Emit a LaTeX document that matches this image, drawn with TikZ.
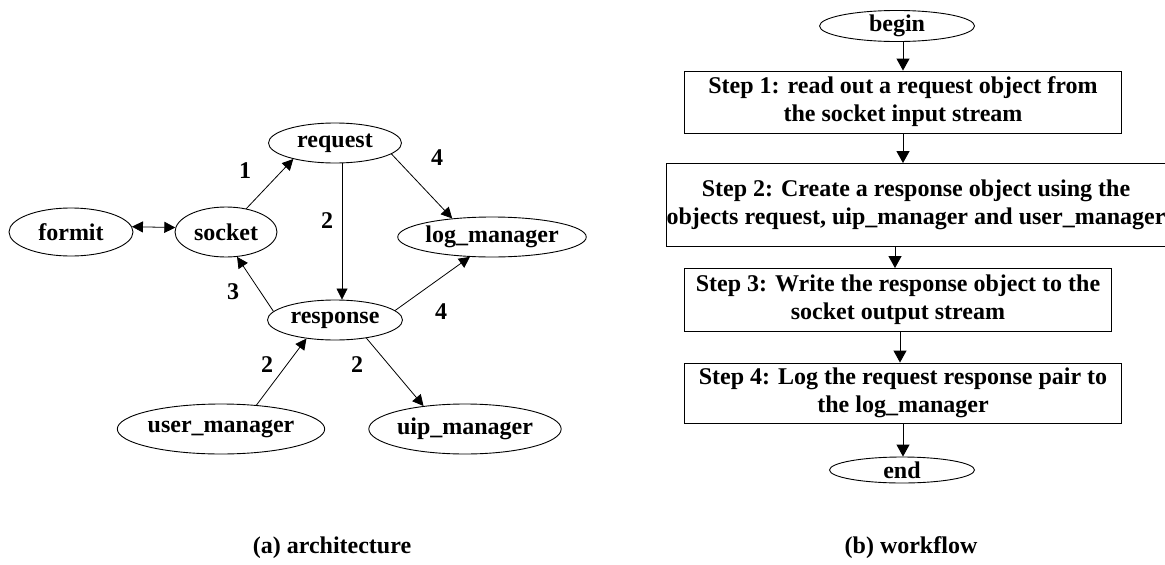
\documentclass[tikz,border=0pt]{standalone}
\usepackage{fontspec}
\setmainfont{Liberation Serif}
\usetikzlibrary{shapes.geometric,arrows.meta}
\begin{document}
\begin{tikzpicture}[x=1pt,y=-1pt,
  every node/.style={font=\fontsize{24}{28}\selectfont\bfseries},
  obj/.style={draw,ellipse,line width=0.9pt,inner sep=0pt},
  stepbox/.style={draw,rectangle,line width=0.9pt,inner sep=0pt,align=center},
  num/.style={inner sep=0pt},
  link/.style={line width=0.8pt,-{Triangle[length=11pt,width=11pt]}},
  flow/.style={line width=1pt,-{Triangle[length=12pt,width=13pt]}}]
\useasboundingbox (0,0) rectangle (1165,565);

% architecture: objects
\node[obj,minimum width=124,minimum height=48] (formit) at (71,232) {formit};
\node[obj,minimum width=102,minimum height=50] (socket) at (226,232) {socket};
\node[obj,minimum width=133,minimum height=40] (request) at (335,143) {request};
\node[obj,minimum width=135,minimum height=40] (logm) at (492,237) {log\_manager};
\node[obj,minimum width=135,minimum height=40] (response) at (335,320) {response};
\node[obj,minimum width=195,minimum height=50] (userm) at (221,429) {user\_manager};
\node[obj,minimum width=184,minimum height=50] (uipm) at (465,429) {uip\_manager};

% architecture: interactions
\draw[link,{Triangle[length=11pt,width=11pt]}-{Triangle[length=11pt,width=11pt]}] (formit.5) -- (socket.175);
\draw[link] (socket.49) -- (request.201);
\draw[link] ([xshift=7]request.south) -- ([xshift=7]response.north);
\draw[link] (request.349) -- (logm.155);
\draw[link] (response.172) -- (socket.294);
\draw[link] (response.9) -- (logm.222);
\draw[link] (userm.34) -- (response.213);
\draw[link] (response.330) -- (uipm.151);

% step numbers
\node[num] (n1) at (245,171) {1};
\node[num] (n2a) at (327,221) {2};
\node[num] (n4a) at (437,158) {4};
\node[num] (n3) at (233,292) {3};
\node[num] (n4b) at (441,312) {4};
\node[num] (n2b) at (267,365) {2};
\node[num] (n2c) at (357,365) {2};

% workflow
\node[obj,minimum width=155,minimum height=24] (begin) at (897,26) {begin};
\node[stepbox,minimum width=437,minimum height=62] (s1) at (903,102)
  {Step 1: read out a request object from\\the socket input stream};
\node[stepbox,minimum width=492,minimum height=83] (s2) at (916,205)
  {Step 2: Create a response object using the\\objects request, uip\_manager and user\_manager};
\node[stepbox,minimum width=427,minimum height=63] (s3) at (898,300)
  {Step 3: Write the response object to the\\socket output stream};
\node[stepbox,minimum width=437,minimum height=60] (s4) at (903,393)
  {Step 4: Log the request response pair to\\the log\_manager};
\node[obj,minimum width=145,minimum height=26] (end) at (902,470) {end};

\draw[flow] (begin.south -| s1.north) -- (s1.north);
\draw[flow] (s1.south) -- (s1.south |- s2.north);
\draw[flow] ([xshift=-8]s1.south |- s2.south) -- ([xshift=-8]s1.south |- s3.north);
\draw[flow] ([xshift=-3]s1.south |- s3.south) -- ([xshift=-3]s4.north);
\draw[flow] (s4.south) -- (s4.south |- end.north);

% captions
\node (capa) at (332,548) {(a) architecture};
\node (capb) at (911,548) {(b) workflow};
\end{tikzpicture}
\end{document}
